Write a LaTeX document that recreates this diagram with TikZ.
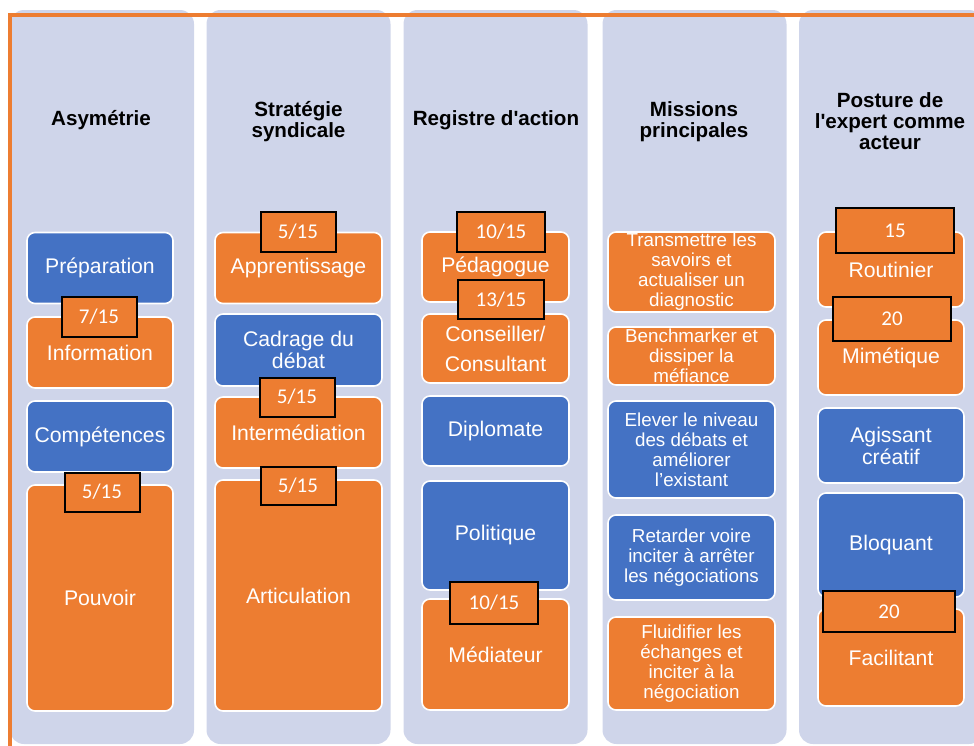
\documentclass[tikz,border=0pt]{standalone}
\usepackage{fontspec}
\setmainfont{Liberation Sans}
\newfontfamily\badgefont{Carlito}
\usetikzlibrary{positioning}
\definecolor{colbg}{HTML}{CFD5EA}
\definecolor{boxblue}{HTML}{4472C4}
\definecolor{boxorange}{HTML}{ED7D31}

\begin{document}
\begin{tikzpicture}[
                x=0.5pt, y=-0.5pt,
                col/.style={fill=colbg, rounded corners=7pt, minimum width=92pt, minimum height=367pt, inner sep=0pt},
                hdr/.style={font=\fontsize{10.3}{10.5}\selectfont\bfseries, align=center, text=black},
                box/.style={draw=white, line width=0.8pt, rounded corners=4pt, text=white, align=center, inner sep=0pt, font=\fontsize{10.6}{11}\selectfont},
                bbox/.style={box, fill=boxblue},
                obox/.style={box, fill=boxorange},
                mis/.style={font=\fontsize{9.4}{10}\selectfont},
                badge/.style={draw=black, line width=1pt, fill=boxorange, text=white, inner sep=0pt, minimum width=37.5pt, minimum height=20pt, font=\badgefont\fontsize{10.5}{11}\selectfont},
                frame/.style={draw=boxorange, line width=2pt}
            ]
                \clip (0,0) rectangle (974,745);

% columns
                \node[col] (colA) at (102,377) {};
                \node[col] (colB) at (298.5,377) {};
                \node[col] (colC) at (495.5,377) {};
                \node[col] (colD) at (694.5,377) {};
                \node[col] (colE) at (891,377) {};

                \draw[frame] (10,760) -- (10,15) -- (990,15);

% headers
                \node[hdr] (hA) at (101,120) {Asymétrie};
                \node[hdr] (hB) at (298.5,121.5) {Stratégie\\syndicale};
                \node[hdr] (hC) at (496,120) {Registre d\textquotesingle action};
                \node[hdr] (hD) at (694,121.5) {Missions\\principales};
                \node[hdr] (hE) at (890,121) {Posture de\\l\textquotesingle expert comme\\acteur};

% boxes
                \node[bbox, minimum width=73pt, minimum height=35.5pt] (prep) at (100,268) {Préparation};
                \node[obox, minimum width=73pt, minimum height=35.5pt] (info) at (100,352.5) {Information};
                \node[bbox, minimum width=73pt, minimum height=35.5pt] (comp) at (100,436.5) {Compétences};
                \node[obox, minimum width=73pt, minimum height=113pt] (pouv) at (100,598) {Pouvoir};

                \node[obox, minimum width=83.5pt, minimum height=35.5pt] (appr) at (298.5,268) {Apprentissage};
                \node[bbox, minimum width=83.5pt, minimum height=36pt] (cadr) at (298.5,350) {Cadrage du\\débat};
                \node[obox, minimum width=83.5pt, minimum height=35.5pt] (inter) at (298.5,432.5) {Intermédiation};
                \node[obox, minimum width=83.5pt, minimum height=115.5pt] (artic) at (298.5,595.5) {Articulation};

                \node[obox, minimum width=73.5pt, minimum height=35pt] (peda) at (495.5,267) {Pédagogue};
                \node[obox, minimum width=73.5pt, minimum height=34.5pt, font=\fontsize{10.6}{15}\selectfont] (cons) at (495.5,348.5) {Conseiller/\\Consultant};
                \node[bbox, minimum width=73.5pt, minimum height=35pt] (dipl) at (495.5,431) {Diplomate};
                \node[bbox, minimum width=73.5pt, minimum height=54.5pt] (poli) at (495.5,535.5) {Politique};
                \node[obox, minimum width=73.5pt, minimum height=55.5pt] (medi) at (495.5,654.5) {Médiateur};

                \node[obox, mis, minimum width=83.5pt, minimum height=40pt] (misA) at (691.5,272) {Transmettre les\\savoirs et\\actualiser un\\diagnostic};
                \node[obox, mis, minimum width=83.5pt, minimum height=29pt] (misB) at (691.5,356) {Benchmarker et\\dissiper la\\méfiance};
                \node[bbox, mis, minimum width=83.5pt, minimum height=48.5pt] (misC) at (691.5,449.5) {Elever le niveau\\des débats et\\améliorer\\l’existant};
                \node[bbox, mis, minimum width=83.5pt, minimum height=42.5pt] (misD) at (691.5,557.5) {Retarder voire\\inciter à arrêter\\les négociations};
                \node[obox, mis, minimum width=83.5pt, minimum height=46.5pt] (misE) at (691.5,663.5) {Fluidifier les\\échanges et\\inciter à la\\négociation};

                \node[obox, minimum width=73pt, minimum height=37.5pt] (rout) at (891,269.5) {Routinier};
                \node[obox, minimum width=73pt, minimum height=37.5pt] (mime) at (891,357.5) {Mimétique};
                \node[bbox, minimum width=73pt, minimum height=37.5pt] (agis) at (891,445.5) {Agissant\\créatif};
                \node[bbox, minimum width=73pt, minimum height=52pt] (bloq) at (891,545) {Bloquant};
                \node[obox, minimum width=73pt, minimum height=48.5pt] (faci) at (891,657.5) {Facilitant};

% badges
                \node[badge] (bA) at (99,317) {7/15};
                \node[badge, minimum height=19.5pt] (bB) at (102,492) {5/15};
                \node[badge] (bC) at (298,232) {5/15};
                \node[badge, minimum height=19.5pt] (bD) at (297,397) {5/15};
                \node[badge, minimum height=19pt] (bE) at (298,486) {5/15};
                \node[badge, minimum width=44pt] (bF) at (501,232) {10/15};
                \node[badge, minimum width=43pt, minimum height=19.5pt] (bG) at (501,299.5) {13/15};
                \node[badge, minimum width=44pt, minimum height=21pt] (bH) at (494,603) {10/15};
                \node[badge, minimum width=59pt, minimum height=22.5pt] (bI) at (895,230.5) {15};
                \node[badge, minimum width=59pt, minimum height=22pt] (bJ) at (892,319) {20};
                \node[badge, minimum width=66pt, minimum height=20.5pt] (bK) at (889,611.5) {20};

            \end{tikzpicture}
\end{document}
